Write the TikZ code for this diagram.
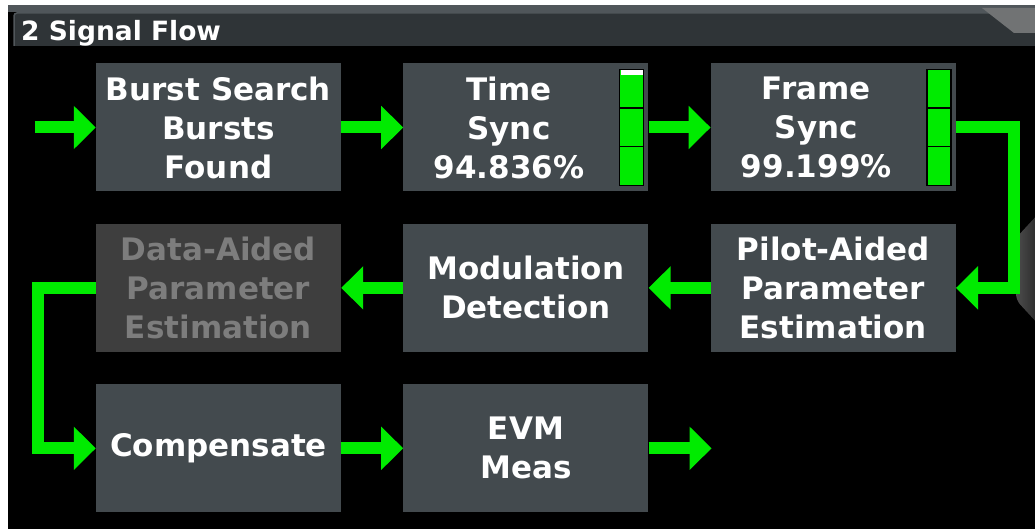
\documentclass[tikz,border=0pt]{standalone}
\usepackage{fontspec}
\setmainfont{DejaVu Sans}
\usetikzlibrary{arrows.meta, positioning, calc}

\definecolor{panelgray}{RGB}{67,74,78}
\definecolor{offgray}{RGB}{62,62,62}
\definecolor{offtext}{RGB}{125,125,125}
\definecolor{flowgreen}{RGB}{0,235,0}
\definecolor{titlegray}{RGB}{47,52,55}
\definecolor{titleedge}{RGB}{80,86,90}

\begin{document}
\begin{tikzpicture}[x=1pt, y=-1pt, node distance=32pt and 62pt,
    % Define the block and connector styles.
    stage/.style={
      rectangle, minimum width=245pt, minimum height=128pt,
      inner sep=0pt, fill=panelgray, text=white, align=center,
      font=\fontsize{31}{39}\selectfont\bfseries
    },
    stagetext/.style={
      text=white, align=center, inner sep=0pt,
      font=\fontsize{31}{39}\selectfont\bfseries
    },
    offstage/.style={stage, fill=offgray, text=offtext},
    levelseg/.style={fill=flowgreen, draw=black, line width=1.5pt},
    flow/.style={draw=flowgreen, line width=12pt,
      -{Triangle[length=22pt, width=42pt]}}
]

\useasboundingbox (0,0) rectangle (1035,529);

% Window background and title bar
\fill[white] (0,0) rectangle (1035,529);
\fill[black] (8,5) rectangle (1035,529);
\fill[titleedge] (8,5) rectangle (1035,12);
\draw[titleedge, fill=titlegray, rounded corners=3pt, line width=1.5pt]
  (14,46) -- (14,13) -- (1040,13) -- (1040,46);
\fill[gray!70!titleedge] (982,8) -- (1035,8) -- (1035,33) -- (1014,33) -- cycle;
\shade[left color=gray!60!black, right color=black!85, rounded corners=6pt]
  (1040,212) -- (1016,238) -- (1016,300) -- (1040,326) -- cycle;

\node[anchor=base west, text=white, inner sep=0pt,
      font=\fontsize{26.5}{30}\selectfont\bfseries] (title) at (21,41) {2 Signal Flow};

% Row 1: burst search, time sync, frame sync
\node[stage] (burst) at (218.5,127.5) {Burst Search\\Bursts\\Found};
\node[stage, right=of burst] (timesync) {};
\node[stagetext] (timesynclabel) at ($(timesync.center)+(-17,0)$) {Time\\Sync\\94.836\%};
\node[stage, right=of timesync] (framesync) {};
\node[stagetext] (framesynclabel) at ($(framesync.center)+(-17,0)$) {Frame\\Sync\\99.199\%};

% Row 2: parameter estimation and modulation detection (right to left)
\node[stage, below=of framesync] (pilot) {Pilot-Aided\\Parameter\\Estimation};
\node[stage, left=of pilot] (modulation) {Modulation\\Detection};
\node[offstage, left=of modulation] (dataaided) {Data-Aided\\Parameter\\Estimation};

% Row 3: compensation and EVM
\node[stage, below=of dataaided] (compensate) {Compensate};
\node[stage, right=of compensate] (evm) {EVM\\Meas};

% Sync level bars
\foreach \k in {0,1,2} {
  \draw[levelseg] ($(timesync.north east)+(-29,6+\k*38.67)$) rectangle ++(24,38.67);
  \draw[levelseg] ($(framesync.north east)+(-29,6+\k*38.67)$) rectangle ++(24,38.67);
}
\fill[white] ($(timesync.north east)+(-28,7)$) rectangle ++(22,5);

% Free ends of the flow
\coordinate[left=61pt of burst] (entry);
\coordinate[right=63pt of evm] (exit);

% Draw arrows connecting the blocks
\draw[flow] (entry) -- (burst);
\draw[flow] (burst) -- (timesync);
\draw[flow] (timesync) -- (framesync);
\draw[flow] (framesync.east) -- ++(58,0) |- (pilot.east);
\draw[flow] (pilot) -- (modulation);
\draw[flow] (modulation) -- (dataaided);
\draw[flow] (dataaided.west) -- ++(-58,0) |- (compensate.west);
\draw[flow] (compensate) -- (evm);
\draw[flow] (evm) -- (exit);

\end{tikzpicture}
\end{document}
